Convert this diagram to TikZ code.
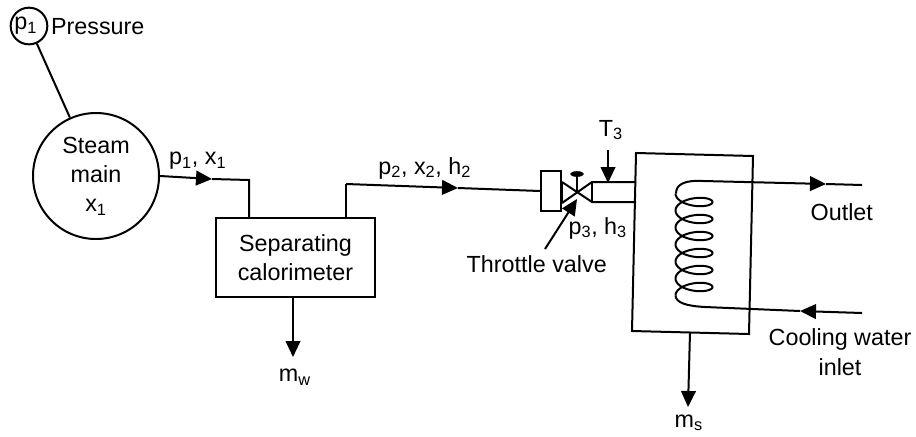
\documentclass[tikz,border=0pt]{standalone}
\usepackage{fontspec}
\setmainfont{Liberation Sans}
\usetikzlibrary{arrows.meta, positioning}
\newcommand{\labelfont}{\fontsize{17.5}{22}\selectfont}
\newcommand{\sbs}[1]{\textsubscript{#1}}
\tikzset{unit/.style={draw, line width=1.5pt, font=\labelfont, align=center, inner sep=0pt}}
\tikzset{unitc/.style={unit, circle}}
\tikzset{tag/.style={font=\labelfont, align=center, inner sep=0pt}}
\tikzset{edge/.style={line width=1.5pt, line join=miter}}
\tikzset{edgearrow/.style={edge, -{Triangle[length=12pt, width=11pt]}}}
\begin{document}
\begin{tikzpicture}[x=0.75pt, y=-0.75pt]
            \useasboundingbox (0, 0) rectangle (916, 436);

            \node [unitc, minimum size=27.5pt] (Pgauge) at (29, 26) { p\sbs{1} };
            \node [unitc, minimum size=94.5pt] (Pmain) at (96, 176) { Steam\\main\\x\sbs{1} };
            \node [unit, minimum width=119pt, minimum height=59pt] (Pbox) at (295.5, 257.5) { Separating\\calorimeter };
            \node [unit, minimum width=15pt, minimum height=30pt] (Pseat) at (551, 191) { };

            \node [tag] (Lpressure) at (101, 27) { Pressure };
            \node [tag] (Lp1) at (201, 161) { p\sbs{1}, x\sbs{1} };
            \node [tag] (Lp2) at (428, 168) { p\sbs{2}, x\sbs{2}, h\sbs{2} };
            \node [tag] (LT3) at (614, 130) { T\sbs{3} };
            \node [tag] (Lp3) at (601, 228) { p\sbs{3}, h\sbs{3} };
            \node [tag] (Lthrottle) at (540, 264) { Throttle valve };
            \node [tag] (Loutlet) at (845, 212) { Outlet };
            \node [tag] (Linlet) at (840, 352) { Cooling water\\inlet };
            \node [tag] (Lmw) at (298, 377) { m\sbs{w} };
            \node [tag] (Lms) at (692, 423) { m\sbs{s} };

            % tank
            \coordinate (TA) at (636, 153);
            \coordinate (TB) at (753, 156);
            \coordinate (TC) at (749, 334);
            \coordinate (TD) at (632, 331);
            \draw [edge] (TA) -- (TB) -- (TC) -- (TD) -- cycle;

            \draw [edge] (Pgauge) -- (Pmain);

            % main to calorimeter
            \coordinate (K1) at (212, 179);
            \coordinate (K2) at (249, 180);
            \coordinate (K3) at (249, 218);
            \draw [edgearrow] (Pmain.east) -- (K1);
            \draw [edge] (K1) -- (K2) -- (K3);

            % calorimeter to valve
            \coordinate (K4) at (346, 219);
            \coordinate (K5) at (346, 184);
            \coordinate (K6) at (458, 188);
            \draw [edge] (K4) -- (K5);
            \draw [edgearrow] (K5) -- (K6);
            \draw [edge] (K6) -- (Pseat.west);

            % valve and pipe
            \coordinate (V0) at (577, 192);
            \coordinate (V1) at (562, 182);
            \coordinate (V2) at (562, 203);
            \coordinate (V3) at (592, 182);
            \coordinate (V4) at (592, 202);
            \coordinate (V5) at (636, 182);
            \coordinate (V6) at (636, 202);
            \coordinate (V7) at (577, 174);
            \draw [edge] (V1) -- (V4) -- (V6);
            \draw [edge] (V2) -- (V3) -- (V5);
            \draw [edge] (V1) -- (V2);
            \draw [edge] (V3) -- (V4);
            \draw [edge] (V0) -- (V7);
            \filldraw (V7) ellipse (6.5 and 2.5);

            \coordinate (A1) at (608, 150);
            \coordinate (A2) at (608, 183);
            \draw [edgearrow] (A1) -- (A2);
            \coordinate (A3) at (545, 249);
            \coordinate (A4) at (577, 199);
            \draw [edgearrow] (A3) -- (A4);

            % coil
            \coordinate (C1) at (862, 185);
            \coordinate (C2) at (826, 184);
            \coordinate (C3) at (703, 181);
            \coordinate (C4) at (705, 307);
            \coordinate (C5) at (800, 311);
            \coordinate (C6) at (862, 313);
            \draw [edge] (C3) .. controls (685, 180) and (676, 184) .. (676, 193.5);
            \draw [line width=1.5pt, smooth] plot [domain=0:2160, samples=217] ({694 - 18.5*cos(\x)}, {193.5 + \x/360*17 + 8*sin(\x)});
            \draw [edge] (675.5, 295.5) .. controls (676, 303) and (687, 306) .. (C4);
            \draw [edgearrow] (C3) -- (C2);
            \draw [edge] (C2) -- (C1);
            \draw [edgearrow] (C6) -- (C5);
            \draw [edge] (C5) -- (C4);

            % drains
            \coordinate (D1) at (293, 357);
            \draw [edgearrow] (Pbox.south -| D1) -- (D1);
            \coordinate (D2) at (690, 332);
            \coordinate (D3) at (688, 407);
            \draw [edgearrow] (D2) -- (D3);
        \end{tikzpicture}
\end{document}
